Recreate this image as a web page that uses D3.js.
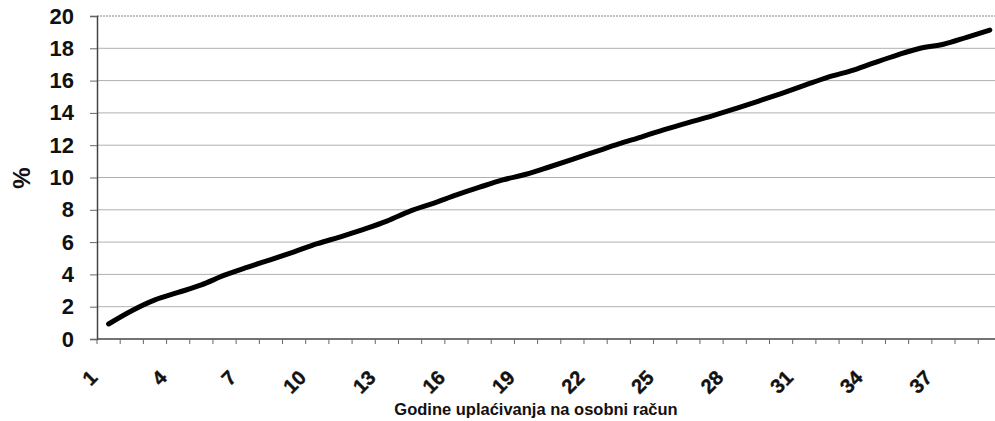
<!DOCTYPE html>
<html>
<head>
<meta charset="utf-8">
<script src="https://cdn.jsdelivr.net/npm/d3@7/dist/d3.min.js"></script>
<style>
  html, body { margin: 0; padding: 0; background: #fff; overflow: hidden; }
  svg { display: block; font-family: "Liberation Sans", Arial, sans-serif; }
</style>
</head>
<body>
<svg id="chart" width="995" height="421"></svg>
<script>
// Years of contributions to the personal account (categories on the x axis)
const years = d3.range(1, 40);
// Share in percent for each year
const shares = [
  0.93, 1.75, 2.42, 2.88, 3.35, 3.95, 4.45, 4.92, 5.4, 5.9,
  6.33, 6.79, 7.3, 7.92, 8.4, 8.92, 9.4, 9.85, 10.2, 10.65,
  11.12, 11.6, 12.08, 12.52, 12.98, 13.4, 13.8, 14.25, 14.72, 15.2,
  15.7, 16.2, 16.6, 17.1, 17.58, 18.0, 18.25, 18.68, 19.13
];
// Labelled categories on the x axis
const xTickLabels = [1, 4, 7, 10, 13, 16, 19, 22, 25, 28, 31, 34, 37];
// Y axis ticks
const yTicks = [0, 2, 4, 6, 8, 10, 12, 14, 16, 18, 20];

const svg = d3.select("#chart");
const plotLeft = 97, plotTop = 16, plotBottom = 339, step = 23.19;
const plotRight = plotLeft + step * years.length;

const x = d3.scaleBand().domain(years).range([plotLeft, plotRight]).padding(0);
const y = d3.scaleLinear().domain([0, 20]).range([plotBottom, plotTop]);
const cx = d => x(d) + x.bandwidth() / 2;

// horizontal gridlines
svg.append("g").selectAll("line")
  .data(yTicks.filter(v => v > 0))
  .join("line")
  .attr("x1", plotLeft).attr("x2", plotRight)
  .attr("y1", d => y(d)).attr("y2", d => y(d))
  .attr("stroke", d => d === 20 ? "#808080" : "#b0b0b0")
  .attr("stroke-width", 1)
  .attr("stroke-dasharray", d => d === 20 ? "2,1" : null);

// y axis
const yAxis = d3.axisLeft(y).tickValues(yTicks).tickSize(7).tickPadding(16)
  .tickFormat(d3.format("d"));
const gy = svg.append("g").attr("transform", `translate(${plotLeft},0)`).call(yAxis);
gy.select(".domain").attr("stroke", "#444").attr("stroke-width", 1.5);
gy.selectAll(".tick line").attr("stroke", "#666");
gy.selectAll(".tick text")
  .attr("font-size", 22).attr("font-weight", "bold").attr("fill", "#111")
  .attr("font-family", "Liberation Sans, Arial, sans-serif");

// x axis line with ticks on category boundaries
const gx = svg.append("g");
gx.append("line")
  .attr("x1", plotLeft).attr("x2", plotRight)
  .attr("y1", plotBottom).attr("y2", plotBottom)
  .attr("stroke", "#444").attr("stroke-width", 1.5);
gx.selectAll("line.tk")
  .data(years.concat([null]))
  .join("line").attr("class", "tk")
  .attr("x1", d => d === null ? plotRight : x(d))
  .attr("x2", d => d === null ? plotRight : x(d))
  .attr("y1", plotBottom).attr("y2", plotBottom + 5)
  .attr("stroke", "#666").attr("stroke-width", 1);
gx.selectAll("text")
  .data(xTickLabels)
  .join("text")
  .attr("transform", d => `translate(${cx(d) - 10},${plotBottom + 40}) rotate(-45)`)
  .attr("text-anchor", "end")
  .attr("font-size", 20).attr("font-weight", "bold").attr("fill", "#111")
  .attr("stroke", "#111").attr("stroke-width", 0.4)
  .text(d => d);

// data line
const line = d3.line()
  .x((d, i) => cx(years[i]))
  .y(d => y(d))
  .curve(d3.curveMonotoneX);
svg.append("path")
  .datum(shares)
  .attr("d", line)
  .attr("fill", "none")
  .attr("stroke", "#000")
  .attr("stroke-width", 5)
  .attr("stroke-linecap", "round")
  .attr("stroke-linejoin", "round");

// axis titles
svg.append("text")
  .attr("transform", "translate(30,178) rotate(-90)")
  .attr("text-anchor", "middle")
  .attr("font-size", 24).attr("font-weight", "bold").attr("fill", "#111")
  .text("%");
svg.append("text")
  .attr("x", 536).attr("y", 415)
  .attr("text-anchor", "middle")
  .attr("font-size", 16.5).attr("font-weight", "bold").attr("fill", "#111")
  .text("Godine uplaćivanja na osobni račun");
</script>
</body>
</html>
